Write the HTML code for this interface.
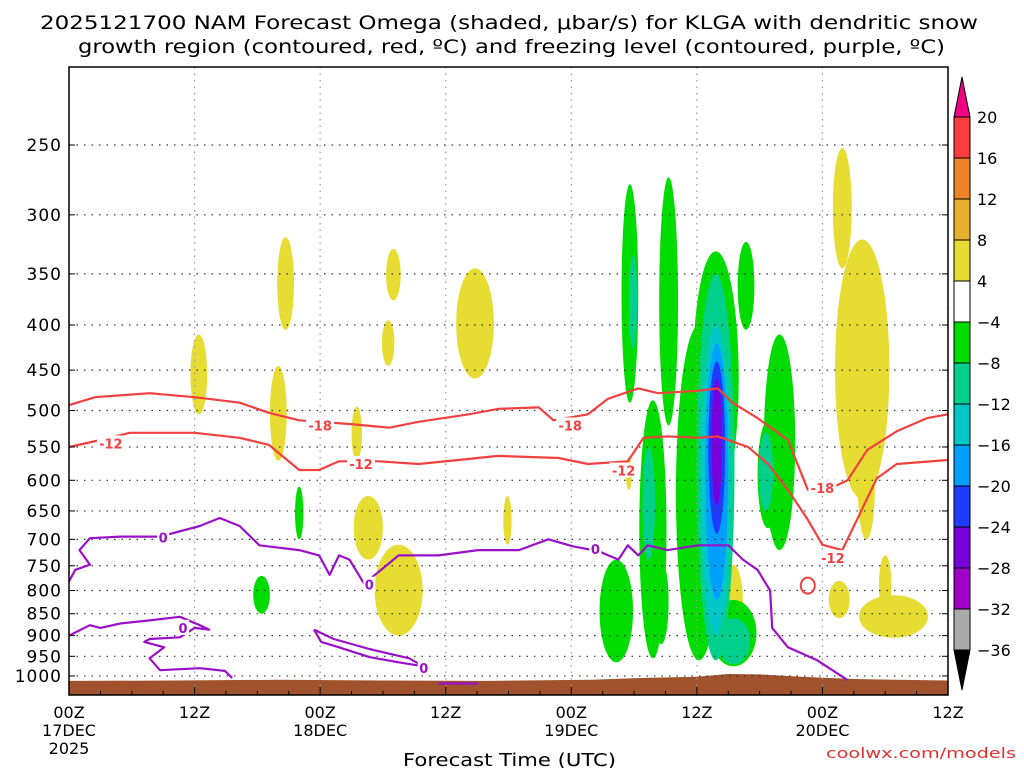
<!DOCTYPE html>
<html><head><meta charset="utf-8"><style>
html,body{margin:0;padding:0;background:#fff;width:1024px;height:768px;overflow:hidden}
svg{display:block;font-family:"DejaVu Sans","Liberation Sans",sans-serif}
</style></head><body>
<svg id="chart" width="1024" height="768" viewBox="0 0 1024 768" xmlns="http://www.w3.org/2000/svg">
<text x="40" y="29" font-size="19" textLength="938" lengthAdjust="spacingAndGlyphs">2025121700 NAM Forecast Omega (shaded, μbar/s) for KLGA with dendritic snow</text>
<text x="78" y="53" font-size="19" textLength="867" lengthAdjust="spacingAndGlyphs">growth region (contoured, red, ºC) and freezing level (contoured, purple, ºC)</text>
<g id="shade"></g>
<g id="grid"></g>
<g id="lines"></g>
<g id="axes"></g>
<g id="cbar"></g>
<text x="403" y="766" font-size="18" textLength="213" lengthAdjust="spacingAndGlyphs">Forecast Time (UTC)</text>
<text x="826" y="758" font-size="14" fill="#e03030" textLength="190" lengthAdjust="spacingAndGlyphs">coolwx.com/models</text>
</svg>
<script>
const pressureTicks=[250,300,350,400,450,500,550,600,650,700,750,800,850,900,950,1000];
const timeTicks=[0,12,24,36,48,60,72,84];
const timeLabels=[["00Z","17DEC","2025"],["12Z"],["00Z","18DEC"],["12Z"],["00Z","19DEC"],["12Z"],["00Z","20DEC"],["12Z"]];
// blobs: [hourCenter, halfWidthHours, pTop, pBottom]
const yellowBlobs=[[12.4,0.8,410,505],[20.7,0.8,318,405],[20,0.8,445,570],[31,0.7,328,375],[30.5,0.6,395,445],[38.8,1.8,345,460],[27.5,0.5,495,570],[28.6,1.4,625,738],[31.5,2.3,710,900],[41.9,0.4,625,710],[53.5,0.3,565,615],[63.5,0.9,748,910],[73.9,0.9,252,345],[75.8,2.6,320,630],[76.2,0.8,540,700],[73.6,1,780,860],[78.8,3.3,810,905],[78,0.6,730,850]];
const greenBlobs=[[53.6,0.8,277,490],[57.3,0.9,272,520],[61.8,2.2,330,640],[64.7,0.8,322,405],[67.9,1.5,410,720],[66.8,1.0,513,680],[55.8,1.3,487,955],[52.3,1.6,738,965],[56.6,0.7,740,920],[63.5,2.2,820,975],[60.2,2.2,400,960],[22,0.4,610,700],[18.4,0.8,770,850]];
const tealBlobs=[[53.9,0.4,333,425],[61.8,1.8,350,960],[63.5,1.6,860,970],[66.6,0.7,530,650],[55.4,0.6,550,740]];
const cyanBlobs=[[61.8,1.4,400,900]];
const lblueBlobs=[[61.9,1.1,420,820]];
const blueBlobs=[[61.9,0.8,440,690]];
const purpleBlobs=[[61.9,0.5,460,640]];
const redM18=[[0,493],[2.5,483],[7.7,478],[12,483],[16.3,490],[19.1,503],[22,513],[26.8,518],[30.6,523],[33.4,515],[38.2,505],[41,498],[44.9,496],[46.3,513],[49.6,505],[51.5,485],[54.4,472],[56.3,478],[60.1,475],[62,472],[63.4,490],[65.8,510],[68.7,540],[70.6,615],[72.5,615],[74.4,600],[76.3,554],[79.1,528],[82,510],[84,505]];
const redM12=[[0,550],[3,540],[5.8,530],[12,530],[16.3,537],[19.1,547],[22,584],[23.9,584],[25.8,571],[29.6,571],[33.4,575],[37.2,569],[41,563],[46.8,566],[49.6,575],[53.4,571],[54.9,537],[57.2,535],[60.1,537],[62,535],[64.9,550],[66.8,575],[68.7,615],[70.6,665],[72,710],[73.9,720],[75.3,665],[77.2,597],[79.1,575],[84,569]];
const frz1=[[0,781],[0.6,758],[2,748],[1,720],[2,698],[4.9,695],[8.7,695],[12.5,676],[14.4,662],[16.3,676],[18.2,711],[22,720],[23.9,730],[24.9,768],[25.8,730],[26.8,738],[28.2,786],[29.6,762],[31.5,730],[35.3,730],[39.1,720],[43,720],[45.8,700],[48.2,713],[50.6,722],[52.5,738],[53.4,711],[54.4,730],[55.3,711],[57.2,720],[60.1,711],[63,711],[64.4,738],[65.8,758],[67,800],[67.2,882],[68.7,928],[71.5,960],[74.4,1011]];
const frz2=[[0,900],[2,876],[3,882],[4.9,872],[7.7,865],[10.6,857],[12.5,876],[13.4,886],[12,882],[10.6,904],[7.7,908],[7.2,915],[9.1,928],[7.7,955],[8.7,985],[12.5,980],[14.9,987],[15.6,1005]];
const frz3=[[23.4,886],[24.1,915],[25.8,928],[28.7,952],[31.5,965],[33.9,975],[32.5,955],[28.7,932],[25.3,908],[23.4,886]];
const frz4=[[35.3,1020],[39.1,1020]];
const terrain=[[0,1013],[10,1012],[20,1010],[30,1012],[40,1013],[50,1010],[55,1005],[60,1002],[63,995],[66,996],[70,1002],[75,1008],[84,1012]];
const redLabels=[[24,"-18",520],[47.9,"-18",520],[72,"-18",612],[4,"-12",545],[27.9,"-12",575],[53,"-12",585],[73,"-12",735]];
const frzLabels=[[9,"0",697],[28.7,"0",788],[50.3,"0",718],[10.9,"0",882],[33.9,"0",980]];
const cbLevels=["20","16","12","8","4","−4","−8","−12","−16","−20","−24","−28","−32","−36"];
const cbColors=["#fa3c3c","#f08228","#e6af2d","#e6dc32","#ffffff","#00dc00","#00d08c","#00c8c8","#00a0ff","#1e3cff","#7800dc","#a000c8","#aaaaaa"];

const X0=69,X1=948,Y0=67,Y1=695;
const x=h=>X0+h*(X1-X0)/84;
const y=p=>145+383*Math.log(p/250);
const NS="http://www.w3.org/2000/svg";
function mk(t,a,parent){const e=document.createElementNS(NS,t);for(const k in a)e.setAttribute(k,a[k]);parent.appendChild(e);return e;}
const shade=document.getElementById('shade'),grid=document.getElementById('grid'),lines=document.getElementById('lines'),axes=document.getElementById('axes'),cbar=document.getElementById('cbar');
mk('rect',{x:X0,y:Y0,width:X1-X0,height:Y1-Y0,fill:'#fff'},shade);
function blobs(arr,color,name){arr.forEach(b=>{const yt=y(b[2]),yb=y(b[3]);
const e=mk('ellipse',{cx:x(b[0]),cy:(yt+yb)/2,rx:b[1]*(X1-X0)/84,ry:(yb-yt)/2,fill:color},shade);

});}
blobs(yellowBlobs,'#e6dc32','omega-positive-region');
blobs(greenBlobs,'#00dc00','omega-negative-region');
blobs(tealBlobs,'#00d08c','omega-negative-region');
blobs(cyanBlobs,'#00c8c8','omega-negative-region');
blobs(lblueBlobs,'#00a0ff','omega-negative-region');
blobs(blueBlobs,'#1e3cff','omega-negative-region');
blobs(purpleBlobs,'#7800dc','omega-negative-region');
let tp='M'+x(0)+','+Y1;terrain.forEach(t=>tp+=' L'+x(t[0])+','+y(t[1]));tp+=' L'+x(84)+','+Y1+'Z';
const ter=mk('path',{d:tp,fill:'#a0522d'},shade);


pressureTicks.forEach(p=>{const g=mk('line',{x1:X0,x2:X1,y1:y(p),y2:y(p),stroke:'#333','stroke-width':1.2,'stroke-dasharray':'1.5,6'},grid);


const t=mk('text',{x:62,y:y(p)+6,'text-anchor':'end','font-size':17,'letter-spacing':1},axes);t.textContent=p;


mk('line',{x1:X0,x2:X0+6,y1:y(p),y2:y(p),stroke:'#000'},axes);mk('line',{x1:X1-6,x2:X1,y1:y(p),y2:y(p),stroke:'#000'},axes);});
timeTicks.forEach((h,i)=>{const g=mk('line',{x1:x(h),x2:x(h),y1:Y0,y2:Y1,stroke:'#999','stroke-width':1.2,'stroke-dasharray':'1.5,5'},grid);


timeLabels[i].forEach((s,j)=>{const t=mk('text',{x:x(h),y:718+j*18,'text-anchor':'middle','font-size':16},axes);t.textContent=s;

});});
for(let h=0;h<=84;h+=3){mk('line',{x1:x(h),x2:x(h),y1:Y1,y2:Y1-(h%12?4:8),stroke:'#000'},axes);}
const fr=mk('rect',{x:X0,y:Y0,width:X1-X0,height:Y1-Y0,fill:'none',stroke:'#000','stroke-width':1.5},axes);


function path(arr){return arr.map((p,i)=>(i?'L':'M')+x(p[0]).toFixed(1)+','+y(p[1]).toFixed(1)).join(' ');}
function line(arr,color,name){const e=mk('path',{d:path(arr),fill:'none',stroke:color,'stroke-width':2.2,'stroke-linejoin':'round'},lines);

}
line(redM18,'#f04040','dgz-minus18-contour');
line(redM12,'#f04040','dgz-minus12-contour');
line(frz1,'#9a10c8','freezing-level-contour');
line(frz2,'#9a10c8','freezing-level-contour');
line(frz3,'#9a10c8','freezing-level-contour');
line(frz4,'#9a10c8','freezing-level-contour');
const loop=mk('ellipse',{cx:x(70.6),cy:y(790),rx:7,ry:8,fill:'none',stroke:'#f04040','stroke-width':2},lines);


function labels(arr,color,name){arr.forEach(l=>{const cx=x(l[0]),cy=y(l[2]);
mk('rect',{x:cx-(l[1].length*4+2),y:cy-8,width:l[1].length*8+4,height:15,fill:'#fff'},lines);
const t=mk('text',{x:cx,y:cy+5,'text-anchor':'middle','font-size':13,'font-weight':'bold',fill:color},lines);t.textContent=l[1];

});}
labels(redLabels,'#f04040','dgz-contour-label');
labels(frzLabels,'#9a10c8','freezing-contour-label');
const CX=954,CW=16,CT=117,CB=650,seg=(CB-CT)/cbColors.length;
const up=mk('polygon',{points:`${CX},${CT} ${CX+CW},${CT} ${CX+CW/2},${CT-40}`,fill:'#f00082',stroke:'#000'},cbar);


cbColors.forEach((c,i)=>{const r=mk('rect',{x:CX,y:CT+i*seg,width:CW,height:seg,fill:c,stroke:'#000','stroke-width':1},cbar);

});
const dn=mk('polygon',{points:`${CX},${CB} ${CX+CW},${CB} ${CX+CW/2},${CB+40}`,fill:'#000',stroke:'#000'},cbar);


cbLevels.forEach((s,i)=>{const t=mk('text',{x:CX+CW+7,y:CT+i*seg+6,'font-size':16},cbar);t.textContent=s;

});
</script>
</body></html>
